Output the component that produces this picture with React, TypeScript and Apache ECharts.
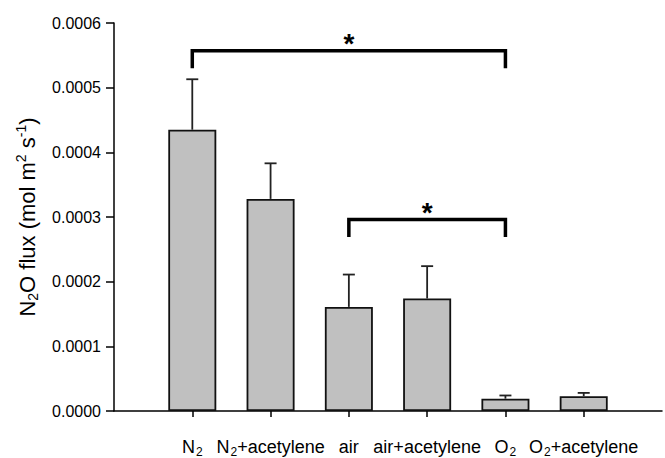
import React, { useEffect, useRef } from "react";
import * as echarts from "echarts";

const categories = ["N2", "N2+acetylene", "air", "air+acetylene", "O2", "O2+acetylene"];
const means = [0.000435, 0.000328, 0.000161, 0.000174, 0.000019, 0.000023];
const upper = [0.000513, 0.000383, 0.000211, 0.000224, 0.000024, 0.000028];
const yTicks = [0, 0.0001, 0.0002, 0.0003, 0.0004, 0.0005, 0.0006];
// significance brackets: [start category index, end category index, bar height, leg bottom]
const brackets = [
  [1, 5, 0.000557, 0.00053],
  [3, 5, 0.000296, 0.000269],
];

const FONT = "'Liberation Sans', Arial, sans-serif";

function fmtCat(s: string): string {
  if (!s) return "";
  if (s.startsWith("N2") || s.startsWith("O2")) {
    return "{n|" + s[0] + "}{s|2}{n|" + s.slice(2) + "}";
  }
  return "{n|" + s + "}";
}

export default function App() {
  const ref = useRef<HTMLDivElement>(null);
  useEffect(() => {
    if (!ref.current) return;
    const chart = echarts.init(ref.current, undefined, { renderer: "svg" });
    const axisCats = ["", ...categories, ""];
    const barData = ["-", ...means, "-"];
    const errData = means.map((m, i) => [i + 1, m, upper[i]]);
    chart.setOption({
      animation: false,
      grid: { left: 114, top: 23, right: -3, bottom: 46, containLabel: false },
      xAxis: {
        type: "category",
        data: axisCats,
        boundaryGap: false,
        axisLine: { lineStyle: { color: "#000", width: 1.5 } },
        axisTick: {
          show: true,
          length: 6,
          interval: (idx: number) => idx > 0 && idx < axisCats.length - 1,
          lineStyle: { color: "#000", width: 1.5 },
        },
        axisLabel: {
          interval: 0,
          margin: 25,
          formatter: (v: string) => fmtCat(v),
          rich: {
            n: { fontSize: 18, fontFamily: FONT, color: "#000", lineHeight: 22 },
            s: { fontSize: 12, fontFamily: FONT, color: "#000", lineHeight: 22, verticalAlign: "bottom", padding: [9, 0, 0, 1] },
          },
        },
        splitLine: { show: false },
      },
      yAxis: {
        type: "value",
        min: yTicks[0],
        max: yTicks[yTicks.length - 1],
        interval: 0.0001,
        axisLine: { show: true, lineStyle: { color: "#000", width: 1.5 } },
        axisTick: { show: true, length: 8, lineStyle: { color: "#000", width: 1.5 } },
        axisLabel: {
          margin: 13,
          color: "#000",
          fontSize: 16,
          fontFamily: FONT,
          formatter: (v: number) => v.toFixed(4),
        },
        splitLine: { show: false },
        name: "{n|N}{s|2}{n|O flux (mol m}{p|2}{n| s}{p|-1}{n|)}",
        nameLocation: "middle",
        nameGap: 74,
        nameRotate: 90,
        nameTextStyle: {
          rich: {
            n: { fontSize: 22, fontFamily: FONT, color: "#000", lineHeight: 26 },
            s: { fontSize: 14, fontFamily: FONT, color: "#000", lineHeight: 26, verticalAlign: "bottom", padding: [10, 0, 0, 0] },
            p: { fontSize: 14, fontFamily: FONT, color: "#000", lineHeight: 26, verticalAlign: "top", padding: [0, 0, 10, 0] },
          },
        },
      },
      series: [
        {
          type: "bar",
          data: barData,
          barWidth: 48,
          itemStyle: { color: "#c0c0c0", borderColor: "#111", borderWidth: 1.8 },
          z: 2,
        },
        {
          type: "custom",
          data: errData,
          z: 3,
          renderItem: (params: any, api: any) => {
            const x = api.value(0);
            const top = api.coord([x, api.value(1)]);
            const up = api.coord([x, api.value(2)]);
            const w = 6;
            return {
              type: "group",
              children: [
                { type: "line", shape: { x1: top[0], y1: top[1], x2: up[0], y2: up[1] }, style: { stroke: "#222", lineWidth: 1.8 } },
                { type: "line", shape: { x1: up[0] - w, y1: up[1], x2: up[0] + w, y2: up[1] }, style: { stroke: "#222", lineWidth: 1.8 } },
              ],
            };
          },
        },
        {
          type: "custom",
          data: brackets,
          z: 4,
          renderItem: (params: any, api: any) => {
            const a = api.value(0);
            const b = api.value(1);
            const h = api.value(2);
            const e = api.value(3);
            const p1 = api.coord([a, e]);
            const p2 = api.coord([a, h]);
            const p3 = api.coord([b, h]);
            const p4 = api.coord([b, e]);
            return {
              type: "group",
              children: [
                {
                  type: "polyline",
                  shape: { points: [p1, p2, p3, p4] },
                  style: { stroke: "#000", lineWidth: 3.5, fill: "none", lineJoin: "miter" },
                },
                {
                  type: "text",
                  x: (p2[0] + p3[0]) / 2,
                  y: p2[1] + 7,
                  style: { text: "*", fontSize: 28, fontWeight: "bold", fontFamily: FONT, fill: "#000", align: "center", verticalAlign: "bottom" },
                },
              ],
            };
          },
        },
      ],
    });
    return () => chart.dispose();
  }, []);
  return <div ref={ref} style={{ width: 665, height: 458, position: "absolute", left: 0, top: 0 }} />;
}
